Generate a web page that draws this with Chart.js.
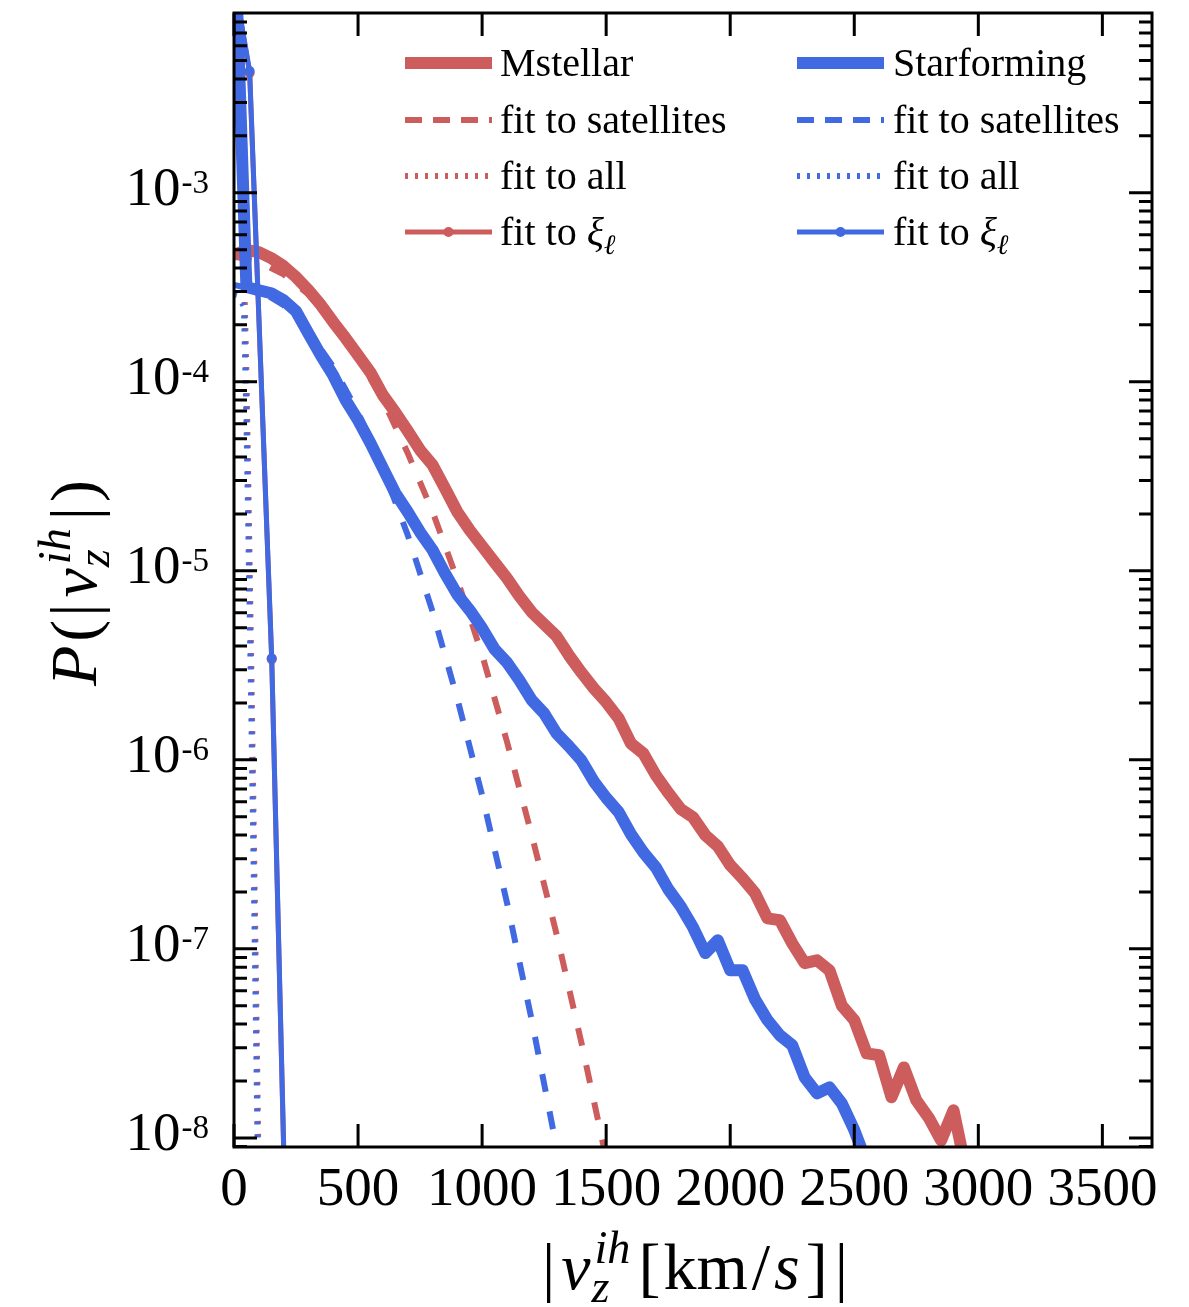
<!DOCTYPE html>
<html>
<head>
<meta charset="utf-8">
<script src="https://cdn.jsdelivr.net/npm/chart.js@4.4.1/dist/chart.umd.min.js"></script>
<style>
body { margin: 0; background: #fff; }
#wrap { width: 1189px; height: 1307px; }
</style>
</head>
<body>
<div id="wrap"><canvas id="c" width="1189" height="1307"></canvas></div>
<script>
var RED = 'rgb(205, 92, 92)';
var BLUE = 'rgb(65, 105, 225)';
var SERIF = '"Liberation Serif", "DejaVu Serif", serif';

// measured distributions (v in km/s)
var mstellarV = [0, 50, 100, 150, 200, 250, 300, 350, 400, 450, 500, 550, 600, 650, 700, 750, 800, 850, 900, 950,
    1000, 1050, 1100, 1150, 1200, 1250, 1300, 1350, 1400, 1450, 1500, 1550, 1600, 1650, 1700, 1750, 1800, 1850, 1900, 1950,
    2000, 2050, 2100, 2150, 2200, 2250, 2300, 2350, 2400, 2450, 2500, 2550, 2600, 2650, 2700, 2750, 2800, 2850, 2900, 2950];
var mstellarP = [4.68e-4, 4.98e-4, 4.85e-4, 4.51e-4, 4.09e-4, 3.58e-4, 3.05e-4, 2.55e-4, 2.07e-4, 1.70e-4,
    1.38e-4, 1.12e-4, 8.5e-5, 6.9e-5, 5.5e-5, 4.35e-5, 3.63e-5, 2.74e-5, 2.05e-5, 1.64e-5,
    1.35e-5, 1.11e-5, 9.14e-6, 7.34e-6, 6.04e-6, 5.21e-6, 4.51e-6, 3.57e-6, 2.90e-6, 2.39e-6,
    2.02e-6, 1.66e-6, 1.22e-6, 1.08e-6, 8.3e-7, 6.7e-7, 5.5e-7, 4.97e-7, 3.99e-7, 3.49e-7,
    2.77e-7, 2.36e-7, 1.97e-7, 1.45e-7, 1.42e-7, 1.07e-7, 8.4e-8, 8.7e-8, 7.7e-8, 5.0e-8,
    4.2e-8, 2.80e-8, 2.74e-8, 1.64e-8, 2.36e-8, 1.58e-8, 1.28e-8, 9.7e-9, 1.40e-8, 6.8e-9];

var starformV = [0, 50, 100, 150, 200, 250, 300, 350, 400, 450, 500, 550, 600, 650, 700, 750, 800, 850, 900, 950,
    1000, 1050, 1100, 1150, 1200, 1250, 1300, 1350, 1400, 1450, 1500, 1550, 1600, 1650, 1700, 1750, 1800, 1850, 1900, 1950,
    2000, 2050, 2100, 2150, 2200, 2250, 2300, 2350, 2400, 2450, 2500, 2550];
var starformP = [3.0e-2, 3.17e-4, 3.05e-4, 2.94e-4, 2.70e-4, 2.36e-4, 1.80e-4, 1.38e-4, 1.08e-4, 8.0e-5,
    6.27e-5, 4.74e-5, 3.49e-5, 2.58e-5, 2.05e-5, 1.60e-5, 1.29e-5, 9.7e-6, 7.5e-6, 6.19e-6,
    4.97e-6, 3.85e-6, 3.28e-6, 2.64e-6, 2.07e-6, 1.76e-6, 1.38e-6, 1.18e-6, 9.95e-7, 7.7e-7,
    6.3e-7, 5.3e-7, 4.04e-7, 3.24e-7, 2.70e-7, 2.07e-7, 1.68e-7, 1.30e-7, 9.5e-8, 1.11e-7,
    7.7e-8, 7.7e-8, 5.4e-8, 4.2e-8, 3.49e-8, 3.09e-8, 2.09e-8, 1.72e-8, 1.85e-8, 1.52e-8,
    1.10e-8, 7.4e-9];

// fit to satellites
var satV = [0, 100, 200, 300, 400, 500, 600, 700, 800, 900, 1000, 1100, 1200, 1300, 1400, 1500];
var satMstellarP = [4.6e-4, 4.3e-4, 3.7e-4, 2.9e-4, 2.1e-4, 1.35e-4, 8.0e-5, 4.2e-5, 2.06e-5, 9.0e-6,
    3.6e-6, 1.25e-6, 4.0e-7, 1.2e-7, 3.2e-8, 7.8e-9];
var satStarformP = [3.25e-4, 3.05e-4, 2.54e-4, 1.86e-4, 1.2e-4, 6.9e-5, 3.47e-5, 1.55e-5, 6.1e-6, 2.11e-6,
    6.5e-7, 1.76e-7, 4.2e-8, 8.9e-9, 1.7e-9, 2.5e-10];

// fit to all
var allV = [0, 20, 40, 50, 60, 70, 80, 90, 100];
var allMstellarP = [4.7e-4, 4.6e-4, 4.1e-4, 1.1e-4, 1.9e-5, 2.9e-6, 4.0e-7, 5.0e-8, 5.5e-9];
var allStarformP = [2.9e-4, 2.85e-4, 2.5e-4, 6.5e-5, 1.1e-5, 1.7e-6, 2.3e-7, 2.8e-8, 3.0e-9];

// fit to xi_l
var xiV = [0, 63, 152, 241];
var xiMstellarP = [1.32e-2, 4.3e-3, 3.4e-6, 5.5e-11];
var xiStarformP = [1.34e-2, 4.4e-3, 3.45e-6, 6e-11];

var xTicks = [0, 500, 1000, 1500, 2000, 2500, 3000, 3500];
var yTickExps = [-3, -4, -5, -6, -7, -8];

function pts(xs, ys) {
    var out = [];
    for (var i = 0; i < xs.length; i++) out.push({x: xs[i], y: ys[i]});
    return out;
}

function series(label, xs, ys, color, kind, order) {
    var d = {
        label: label, data: pts(xs, ys), borderColor: color, backgroundColor: color,
        fill: false, tension: 0, pointRadius: 0, clip: 0, order: order,
        borderJoinStyle: 'round', borderCapStyle: 'butt', kind: kind
    };
    if (kind == 'thick') { d.borderWidth = 12; }
    if (kind == 'dash') { d.borderWidth = 6; d.borderDash = [18, 20]; }
    if (kind == 'dot') { d.borderWidth = 6; d.borderDash = [3, 10]; }
    if (kind == 'xi') { d.borderWidth = 5; d.pointRadius = 5; d.pointBorderWidth = 0; }
    return d;
}

// draws a row of text pieces; {sup, sub} pieces are stacked scripts
function drawMath(ctx, parts, x, y, size, doDraw) {
    var cx = x;
    for (var i = 0; i < parts.length; i++) {
        var p = parts[i];
        if (p.sup !== undefined) {
            var s = size * 0.7;
            ctx.font = 'italic ' + s + 'px ' + SERIF;
            var w1 = ctx.measureText(p.sup).width, w2 = ctx.measureText(p.sub).width;
            if (doDraw) {
                ctx.fillText(p.sup, cx + 3, y - size * 0.4);
                ctx.fillText(p.sub, cx, y + size * 0.2);
            }
            cx += Math.max(w1 + 3, w2);
        } else {
            ctx.font = (p.it ? 'italic ' : '') + size + 'px ' + SERIF;
            if (doDraw) ctx.fillText(p.t, cx, y);
            cx += ctx.measureText(p.t).width;
        }
        cx += p.gap || 0;
    }
    return cx - x;
}

var axesPlugin = {
    id: 'axesPlugin',
    afterDatasetsDraw: function(chart) {
        var ctx = chart.ctx, a = chart.chartArea, xs = chart.scales.x, ys = chart.scales.y;
        ctx.save();
        ctx.strokeStyle = '#000';
        ctx.fillStyle = '#000';
        ctx.lineWidth = 3;
        ctx.lineCap = 'butt';
        ctx.beginPath();
        // x major ticks, bottom and top
        xTicks.forEach(function(v) {
            var px = xs.getPixelForValue(v);
            ctx.moveTo(px, a.bottom); ctx.lineTo(px, a.bottom - 23);
            ctx.moveTo(px, a.top); ctx.lineTo(px, a.top + 23);
        });
        // y log ticks, left and right
        for (var e = -9; e <= -2; e++) {
            for (var m = 1; m <= 9; m++) {
                var val = m * Math.pow(10, e);
                if (val < ys.min || val > ys.max) continue;
                var py = ys.getPixelForValue(val);
                var len = (m == 1) ? 23 : 13;
                ctx.moveTo(a.left, py); ctx.lineTo(a.left + len, py);
                ctx.moveTo(a.right, py); ctx.lineTo(a.right - len, py);
            }
        }
        ctx.stroke();
        ctx.strokeRect(a.left, a.top, a.right - a.left, a.bottom - a.top);

        // x tick labels
        ctx.font = '55px ' + SERIF;
        ctx.textAlign = 'center';
        ctx.textBaseline = 'alphabetic';
        xTicks.forEach(function(v) {
            ctx.fillText(String(v), xs.getPixelForValue(v), 1205);
        });
        // y tick labels 10^n
        ctx.textAlign = 'left';
        yTickExps.forEach(function(n) {
            var py = ys.getPixelForValue(Math.pow(10, n));
            ctx.font = '33px ' + SERIF;
            var sup = String(n);
            var ws = ctx.measureText(sup).width;
            ctx.font = '55px ' + SERIF;
            var wb = ctx.measureText('10').width;
            var right = 209;
            ctx.fillText('10', right - ws - wb - 1, py + 12);
            ctx.font = '33px ' + SERIF;
            ctx.fillText(sup, right - ws, py);
        });

        // axis titles
        var xParts = [{t: '|', gap: 6}, {t: 'v', it: true, gap: 1}, {sup: 'ih', sub: 'z', gap: 8}, {t: '[', gap: 3},
            {t: 'km', gap: 4}, {t: '/', gap: 4}, {t: 's', it: true, gap: 6}, {t: ']', gap: 7}, {t: '|'}];
        var w = drawMath(ctx, xParts, 0, 0, 66, false);
        drawMath(ctx, xParts, 695 - w / 2, 1289, 66, true);

        var yParts = [{t: 'P', it: true, gap: 4}, {t: '(', gap: 3}, {t: '|', gap: 6}, {t: 'v', it: true, gap: 1},
            {sup: 'ih', sub: 'z', gap: 8}, {t: '|', gap: 5}, {t: ')'}];
        ctx.translate(96, 583);
        ctx.rotate(-Math.PI / 2);
        var wy = drawMath(ctx, yParts, 0, 0, 66, false);
        drawMath(ctx, yParts, -wy / 2, 0, 66, true);
        ctx.restore();
    }
};

var legendPlugin = {
    id: 'legendPlugin',
    afterDraw: function(chart) {
        var ctx = chart.ctx;
        var cols = [{x0: 405, x1: 492, tx: 500}, {x0: 797, x1: 884, tx: 893}];
        var rows = [63, 120, 176, 232];
        ctx.save();
        chart.data.datasets.forEach(function(ds, i) {
            var c = cols[Math.floor(i / 4)], y = rows[i % 4];
            ctx.strokeStyle = ds.borderColor;
            ctx.fillStyle = ds.borderColor;
            ctx.lineWidth = ds.borderWidth;
            ctx.lineCap = 'butt';
            if (ds.kind == 'dash') ctx.setLineDash([17, 11]);
            else if (ds.kind == 'dot') ctx.setLineDash([3, 7]);
            else ctx.setLineDash([]);
            ctx.beginPath();
            ctx.moveTo(c.x0, y); ctx.lineTo(c.x1, y);
            ctx.stroke();
            ctx.setLineDash([]);
            if (ds.kind == 'xi') {
                ctx.beginPath();
                ctx.arc((c.x0 + c.x1) / 2, y, 5, 0, Math.PI * 2);
                ctx.fill();
            }
            ctx.fillStyle = '#000';
            var bits = ds.label.split('_');
            if (bits.length > 1) {
                var head = bits[0].slice(0, -1);
                ctx.font = '40px ' + SERIF;
                ctx.fillText(head, c.tx, y + 13);
                var hw = ctx.measureText(head).width;
                ctx.font = 'italic 40px ' + SERIF;
                ctx.fillText(bits[0].slice(-1), c.tx + hw, y + 13);
                var gw = ctx.measureText(bits[0].slice(-1)).width;
                ctx.font = 'italic 28px ' + SERIF;
                ctx.fillText(bits[1], c.tx + hw + gw, y + 22);
            } else {
                ctx.font = '40px ' + SERIF;
                ctx.fillText(ds.label, c.tx, y + 13);
            }
        });
        ctx.restore();
    }
};

var chart = new Chart(document.getElementById('c'), {
    type: 'line',
    data: {
        datasets: [
            series('Mstellar', mstellarV, mstellarP, RED, 'thick', 8),
            series('fit to satellites', satV, satMstellarP, RED, 'dash', 7),
            series('fit to all', allV, allMstellarP, RED, 'dot', 6),
            series('fit to \u03be_\u2113', xiV, xiMstellarP, RED, 'xi', 5),
            series('Starforming', starformV, starformP, BLUE, 'thick', 4),
            series('fit to satellites', satV, satStarformP, BLUE, 'dash', 3),
            series('fit to all', allV, allStarformP, BLUE, 'dot', 2),
            series('fit to \u03be_\u2113', xiV, xiStarformP, BLUE, 'xi', 1)
        ]
    },
    options: {
        responsive: false,
        devicePixelRatio: 1,
        animation: false,
        events: [],
        layout: { padding: { left: 234, right: 37, top: 13, bottom: 160 } },
        scales: {
            x: { type: 'linear', min: 0, max: 3700, display: false },
            y: { type: 'logarithmic', min: 8.95e-9, max: 8.93e-3, display: false }
        },
        plugins: { legend: { display: false }, tooltip: { enabled: false } }
    },
    plugins: [axesPlugin, legendPlugin]
});
</script>
</body>
</html>
